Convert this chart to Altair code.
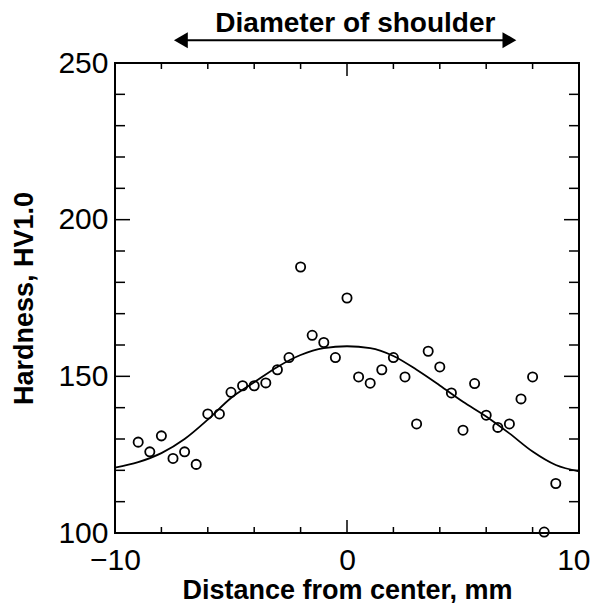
import altair as alt
import pandas as pd

# Measured hardness points
dist = [-9.0, -8.5, -8.0, -7.5, -7.0, -6.5, -6.0, -5.5, -5.0, -4.5, -4.0, -3.5, -3.0, -2.5,
        -2.0, -1.5, -1.0, -0.5, 0.0, 0.5, 1.0, 1.5, 2.0, 2.5, 3.0, 3.5, 4.0, 4.5, 5.0, 5.5,
        6.0, 6.5, 7.0, 7.5, 8.0, 8.5, 9.0]
hard = [129.0, 125.9, 131.0, 123.8, 125.9, 121.9, 138.0, 138.0, 144.9, 147.0, 147.0, 147.9,
        152.1, 156.0, 184.9, 163.1, 160.8, 156.0, 175.0, 149.8, 147.8, 152.1, 156.0, 149.8,
        134.8, 158.0, 153.0, 144.7, 132.8, 147.7, 137.6, 133.7, 134.8, 142.8, 149.8, 100.3,
        115.8]

# Fitted curve
curve_x = [-10, -9, -8, -7, -6, -5, -4, -3, -2, -1, 0, 1, 2, 3, 4, 5, 6, 7, 8, 9, 10]
curve_y = [120.9, 122.6, 125.5, 130.0, 136.2, 143.1, 148.1, 153.0, 156.8, 159.0, 159.6,
           159.0, 156.5, 152.1, 147.1, 141.9, 137.2, 131.8, 126.0, 121.7, 119.7]

# Tick values
x_minor = [-8, -6, -4, -2, 2, 4, 6, 8]
x_major = [-10, 0, 10]
y_minor = [110, 120, 130, 140, 160, 170, 180, 190, 210, 220, 230, 240]
y_major = [100, 150, 200, 250]

# Annotation: shoulder diameter arrow
arrow_x = [-7.16, 7.0]
arrow_y = 257.3
arrow_label = "Diameter of shoulder"
label_x = 0.36
label_y = 259.9

W, H = 464, 470
FONT = "Liberation Sans"

xs = alt.Scale(domain=[-10, 10], nice=False, zero=False)
ys = alt.Scale(domain=[100, 250], nice=False, zero=False)

pts_df = pd.DataFrame({"x": dist, "y": hard})
cur_df = pd.DataFrame({"x": curve_x, "y": curve_y})

xaxis = alt.Axis(values=x_major, ticks=False, domain=False, grid=False, labelFontSize=30,
                 labelFont=FONT, labelColor="black", labelPadding=12,
                 labelAlign={"condition": {"test": "datum.value == 10", "value": "right"},
                             "value": "center"},
                 labelOffset={"condition": {"test": "datum.value == 10", "value": 11},
                              "value": 0},
                 title="Distance from center, mm", titleFont=FONT, titleFontSize=27,
                 titleFontWeight="bold", titleColor="black", titlePadding=2,
                 labelFlush=False)
yaxis = alt.Axis(values=y_major, ticks=False, domain=False, grid=False, labelFontSize=30,
                 labelFont=FONT, labelColor="black", labelPadding=7,
                 title="Hardness, HV1.0", titleFont=FONT, titleFontSize=27,
                 titleFontWeight="bold", titleColor="black", titlePadding=19,
                 labelFlush=False)

points = alt.Chart(pts_df).mark_point(shape="circle", filled=False, color="black",
                                      size=85, strokeWidth=1.8, opacity=1).encode(
    x=alt.X("x:Q", scale=xs, axis=xaxis),
    y=alt.Y("y:Q", scale=ys, axis=yaxis),
)

curve = alt.Chart(cur_df).mark_line(color="black", strokeWidth=1.8,
                                    interpolate="monotone").encode(
    x=alt.X("x:Q", scale=xs), y=alt.Y("y:Q", scale=ys))

def xticks(vals, length):
    d = pd.DataFrame({"x": vals})
    bot = alt.Chart(d).mark_rule(color="black", strokeWidth=1.5).encode(
        x=alt.X("x:Q", scale=xs), y=alt.value(H), y2=alt.value(H - length))
    top = alt.Chart(d).mark_rule(color="black", strokeWidth=1.5).encode(
        x=alt.X("x:Q", scale=xs), y=alt.value(0), y2=alt.value(length))
    return [bot, top]

def yticks(vals, length):
    d = pd.DataFrame({"y": vals})
    left = alt.Chart(d).mark_rule(color="black", strokeWidth=1.5).encode(
        y=alt.Y("y:Q", scale=ys), x=alt.value(0), x2=alt.value(length))
    right = alt.Chart(d).mark_rule(color="black", strokeWidth=1.5).encode(
        y=alt.Y("y:Q", scale=ys), x=alt.value(W), x2=alt.value(W - length))
    return [left, right]

ticks = xticks(x_minor, 6) + xticks(x_major, 13) + yticks(y_minor, 10) + yticks(y_major, 15)

arr_df = pd.DataFrame({"x": [arrow_x[0]], "x2": [arrow_x[1]], "y": [arrow_y]})
arrow_line = alt.Chart(arr_df).mark_rule(color="black", strokeWidth=2).encode(
    x=alt.X("x:Q", scale=xs), x2="x2:Q", y=alt.Y("y:Q", scale=ys))
heads_df = pd.DataFrame({"x": arrow_x, "y": [arrow_y, arrow_y],
                         "s": ["triangle-left", "triangle-right"]})
arrow_heads = alt.Chart(heads_df).mark_point(filled=True, color="black", size=256,
                                             opacity=1).encode(
    x=alt.X("x:Q", scale=xs), y=alt.Y("y:Q", scale=ys),
    shape=alt.Shape("s:N", scale=None, legend=None))
lab_df = pd.DataFrame({"x": [label_x], "y": [label_y], "t": [arrow_label]})
arrow_text = alt.Chart(lab_df).mark_text(font=FONT, fontSize=28, fontWeight="bold",
                                         color="black", baseline="alphabetic",
                                         align="center").encode(
    x=alt.X("x:Q", scale=xs), y=alt.Y("y:Q", scale=ys), text="t:N")

chart = alt.layer(curve, *ticks, points, arrow_line, arrow_heads, arrow_text).properties(
    width=W, height=H,
    autosize=alt.AutoSizeParams(type="none"),
    padding={"left": 107, "top": 55, "right": 11, "bottom": 70},
    background="white",
).configure_view(stroke="black", strokeWidth=2)

chart.save("out.html", embed_options={"renderer": "svg", "actions": False})
